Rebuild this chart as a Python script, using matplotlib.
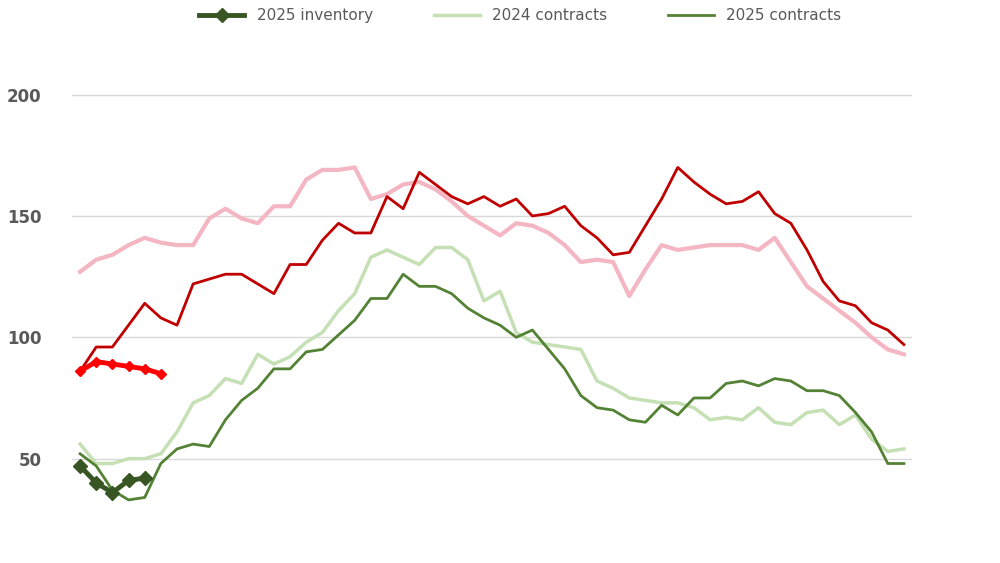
import matplotlib.pyplot as plt
import numpy as np

red_2024 = [86,96,96,105,114,108,105,122,124,126,126,122,118,130,130,140,147,143,143,158,
            153,168,163,158,155,158,154,157,150,151,154,146,141,134,135,146,157,170,164,159,
            155,156,160,151,147,136,123,115,113,106,103,97]
pink_2024 = [127,132,134,138,141,139,138,138,149,153,149,147,154,154,165,169,169,170,157,159,
             163,164,161,156,150,146,142,147,146,143,138,131,132,131,117,128,138,136,137,138,
             138,138,136,141,131,121,116,111,106,100,95,93]
lightgreen_2024 = [56,48,48,50,50,52,61,73,76,83,81,93,89,92,98,102,111,118,133,136,
                   133,130,137,137,132,115,119,102,98,97,96,95,82,79,75,74,73,73,71,66,
                   67,66,71,65,64,69,70,64,68,58,53,54]
green_2024 = [52,47,37,33,34,48,54,56,55,66,74,79,87,87,94,95,101,107,116,116,
              126,121,121,118,112,108,105,100,103,95,87,76,71,70,66,65,72,68,75,75,
              81,82,80,83,82,78,78,76,69,61,48,48]
red_2025 = [86,90,89,88,87,85]
green_2025 = [47,40,36,41,42]

fig = plt.figure(figsize=(10, 5.63), dpi=100)
ax = fig.add_axes([0.072, 0.0, 0.84, 1.0])
x = np.arange(52)
ax.plot(x, pink_2024, color="#f4b6c2", lw=3)
ax.plot(x, red_2024, color="#c00000", lw=2)
ax.plot(x, lightgreen_2024, color="#c5e0b4", lw=2.5, label="2024 contracts")
ax.plot(x, green_2024, color="#548235", lw=2, label="2025 contracts")
ax.plot(np.arange(len(red_2025)), red_2025, color="#ff0000", lw=3.5, marker="D", ms=5)
ax.plot(np.arange(len(green_2025)), green_2025, color="#375623", lw=3.5, marker="D", ms=7,
        label="2025 inventory")

ax.set_xlim(-0.5, 51.5)
ax.set_ylim(7, 239)
ax.set_yticks([50, 100, 150, 200])
ax.grid(axis="y", color="#d9d9d9", lw=1)
ax.set_axisbelow(True)
for s in ax.spines.values():
    s.set_visible(False)
ax.set_xticks([])
ax.tick_params(axis="y", length=0, labelsize=12, labelcolor="#595959", pad=22)
for t in ax.get_yticklabels():
    t.set_fontweight("bold")

h, l = ax.get_legend_handles_labels()
order = [2, 0, 1]
fig.legend([h[i] for i in order], [l[i] for i in order], loc="upper center",
           bbox_to_anchor=(0.52, 1.01), ncol=3, frameon=False, fontsize=11,
           labelcolor="#595959", handlelength=3, columnspacing=4)

fig.savefig("out.png")
